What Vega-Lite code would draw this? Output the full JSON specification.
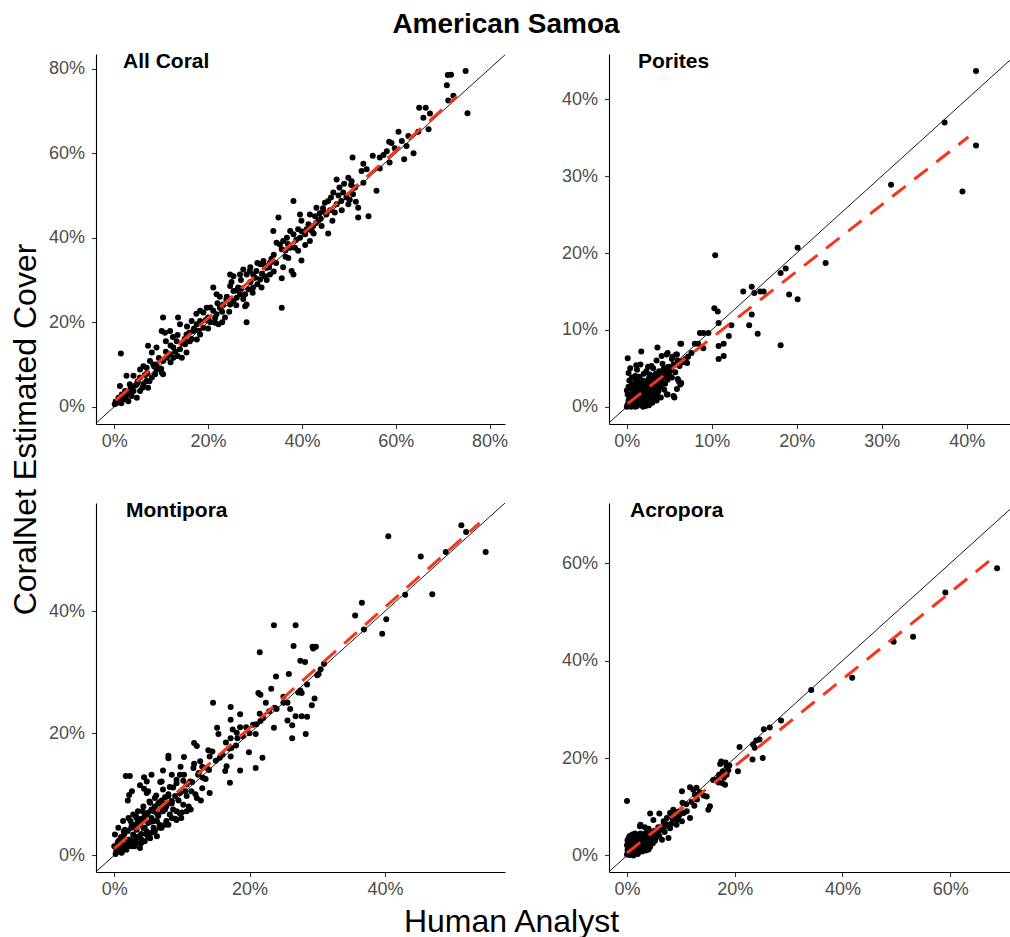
{
"$schema": "https://vega.github.io/schema/vega-lite/v6.json",
"padding": {"left": 9, "top": 11, "right": 0, "bottom": 0},
"title": {"text": "American Samoa", "fontSize": 28, "fontWeight": "bold", "font": "Liberation Sans", "color": "#000", "anchor": "middle", "baseline": "alphabetic", "offset": -10, "dx": 410},
"datasets": {
"allcoral": [[71.1,78.5],[71.8,78.6],[74.9,79.5],[70.9,76.1],[71.2,72.5],[72.3,73.6],[75.3,69.5],[65.0,70.8],[66.4,70.8],[65.9,68.4],[67.3,69.4],[67.0,65.7],[64.8,65.1],[60.6,65.1],[62.7,64.1],[61.3,62.9],[58.6,62.7],[59.1,62.4],[59.8,61.2],[62.3,61.7],[63.8,60.0],[61.8,58.6],[58.1,60.5],[58.7,57.8],[56.6,56.4],[50.8,59.0],[53.1,57.5],[55.1,59.4],[56.6,59.0],[57.4,59.6],[52.7,55.8],[53.8,56.2],[55.9,51.1],[52.0,44.8],[54.2,45.1],[52.0,47.1],[53.1,53.0],[47.4,53.8],[49.9,54.2],[50.6,53.4],[48.0,51.9],[46.7,50.7],[48.8,50.7],[50.9,50.3],[51.3,51.9],[49.5,49.5],[48.4,48.7],[49.9,47.9],[47.4,47.9],[45.6,48.7],[44.9,48.3],[44.6,46.3],[43.1,47.1],[42.8,45.1],[41.7,45.5],[43.5,44.0],[44.2,42.8],[45.6,41.0],[42.4,42.8],[41.4,43.2],[39.9,44.0],[39.6,45.5],[38.2,48.7],[41.7,39.2],[40.7,38.3],[39.9,34.6],[37.8,32.1],[38.2,31.3],[35.7,30.4],[35.7,23.4],[38.2,40.8],[37.5,41.6],[36.8,40.0],[36.0,39.2],[35.3,38.4],[35.0,44.8],[33.9,41.6],[34.6,38.8],[35.7,37.3],[37.5,37.6],[39.2,36.9],[37.1,35.2],[38.5,37.6],[39.6,40.0],[40.7,40.8],[39.2,42.0],[42.1,41.6],[46.0,46.5],[47.0,46.0],[45.2,45.5],[44.0,44.5],[43.0,43.5],[42.5,41.0],[46.5,44.0],[48.5,46.5],[50.2,49.0],[51.5,48.5],[50.5,52.5],[49.0,52.8],[47.8,50.0],[46.2,49.5],[44.5,47.0],[43.8,45.8],[41.0,42.0],[40.0,41.5],[38.8,39.5],[37.0,38.5],[36.5,37.0],[34.0,36.0],[33.5,35.0],[34.5,34.0],[36.0,33.0],[33.0,33.0],[32.0,33.5],[33.2,34.1],[32.5,32.9],[31.8,34.5],[31.1,33.7],[30.3,32.1],[29.6,31.3],[28.9,32.1],[28.2,31.3],[27.5,32.5],[26.8,31.3],[24.7,31.3],[25.4,30.9],[31.1,30.1],[32.1,30.9],[33.2,31.3],[31.4,28.2],[29.6,28.2],[28.6,27.8],[27.9,26.6],[28.2,24.2],[27.9,23.8],[28.2,20.0],[26.8,26.6],[26.1,25.8],[25.4,25.0],[24.7,24.2],[23.9,25.4],[23.2,24.2],[24.7,28.6],[25.4,27.4],[26.4,28.2],[22.5,23.4],[23.6,21.1],[21.8,21.9],[21.1,22.7],[21.1,28.2],[21.8,26.6],[21.5,19.9],[22.2,19.5],[19.7,23.4],[19.0,22.3],[18.3,22.7],[20.0,21.1],[18.3,20.3],[17.6,19.5],[16.5,20.3],[16.8,17.9],[18.3,17.1],[19.0,18.7],[17.6,15.9],[16.1,15.5],[15.4,17.1],[15.1,14.8],[14.0,13.6],[13.3,15.5],[12.6,14.0],[14.0,19.5],[13.6,21.1],[10.4,21.1],[10.1,17.9],[10.8,17.5],[11.9,17.9],[11.9,12.4],[12.6,11.6],[11.2,11.6],[10.4,10.8],[14.4,11.6],[15.4,12.8],[9.0,14.0],[8.0,12.8],[7.2,14.4],[7.6,10.8],[8.3,10.0],[9.0,8.8],[10.1,8.1],[10.4,7.7],[6.9,9.2],[5.5,8.8],[6.2,9.6],[4.1,7.3],[2.6,7.3],[5.5,6.9],[4.8,5.3],[3.3,5.3],[4.1,3.7],[2.6,2.9],[1.2,4.9],[1.4,12.6],[0.5,0.9],[0.1,0.6],[0.9,2.1],[1.9,1.7],[3.0,1.3],[3.7,2.5],[4.8,2.1],[5.5,3.7],[6.2,5.3],[6.9,6.1],[8.0,6.9],[8.7,7.7],[7.2,4.5],[2.3,3.7],[1.6,2.9],[29.0,29.5],[30.0,30.5],[27.0,28.0],[26.0,27.5],[24.0,26.0],[23.0,22.5],[22.0,24.5],[20.5,20.0],[19.5,20.5],[17.0,18.5],[16.0,17.5],[15.0,16.0],[14.5,15.0],[13.0,13.0],[12.0,14.5],[11.0,13.0],[9.5,11.5],[9.0,10.0],[8.5,9.5],[7.0,8.0],[6.5,7.5],[5.0,6.0],[4.5,5.0],[3.5,4.5],[3.0,3.5],[2.0,2.5],[1.0,1.5],[0.3,1.2],[1.5,0.8],[2.5,1.8],[3.5,3.0],[6.0,4.5],[7.5,6.0],[10.0,9.0],[12.0,10.5],[13.5,12.0],[16.5,16.0],[18.0,18.0],[20.0,18.5],[21.5,21.0],[23.0,20.0],[24.5,22.5],[26.0,24.0],[27.5,25.5],[29.5,27.0],[30.5,29.0],[31.5,31.5],[32.5,30.0],[34.0,32.0],[36.5,35.5],[17.5,22.0],[15.5,19.0],[13.5,17.0],[12.5,16.5],[11.0,15.5],[20.5,23.5],[22.5,26.0],[25.0,29.5],[27.0,30.0],[29.0,33.0],[30.5,34.0]],
"porites": [[41.1,43.7],[37.4,37.0],[41.1,34.0],[31.1,28.9],[39.5,28.0],[20.1,20.7],[23.4,18.7],[18.1,17.4],[18.7,18.0],[19.1,14.6],[20.1,14.0],[18.1,8.0],[10.4,19.7],[13.7,15.0],[14.7,15.6],[15.0,14.8],[15.7,15.0],[16.1,15.0],[14.7,12.0],[14.4,10.6],[15.4,9.5],[10.3,12.8],[10.7,12.4],[10.8,10.9],[12.3,10.6],[12.0,9.2],[11.4,8.2],[10.8,7.9],[11.4,6.6],[10.8,6.2],[8.6,9.6],[9.0,9.6],[9.6,9.6],[8.0,8.2],[8.4,8.2],[9.0,7.6],[7.6,7.0],[6.3,8.2],[6.5,5.9],[7.1,5.7],[5.9,6.8],[5.3,6.2],[0.1,6.3],[1.7,7.2],[1.1,5.4],[3.6,7.7],[4.7,6.8],[4.1,6.6],[2.9,5.3],[6.1,3.3],[6.3,2.9],[5.5,1.4],[4.7,1.6],[5.9,2.3],[4.8,7.0],[5.8,6.8],[6.4,8.2],[4.8,1.6],[5.6,1.2],[6.0,3.6],[6.4,3.1],[0.0,0.0],[0.1,0.3],[0.2,0.8],[0.3,1.2],[0.1,1.6],[0.0,2.1],[0.2,2.6],[0.4,0.1],[0.5,0.5],[0.6,1.0],[0.5,1.5],[0.7,2.0],[0.4,2.4],[0.6,2.9],[0.8,0.2],[0.9,0.7],[1.0,1.2],[0.9,1.7],[1.1,2.2],[0.8,2.7],[1.0,3.2],[1.2,0.1],[1.3,0.6],[1.4,1.1],[1.2,1.6],[1.5,2.1],[1.3,2.6],[1.4,3.1],[1.6,0.4],[1.7,0.9],[1.8,1.4],[1.6,1.9],[1.9,2.4],[1.7,2.9],[1.8,3.4],[2.0,0.3],[2.1,0.8],[2.2,1.3],[2.0,1.8],[2.3,2.3],[2.1,2.8],[2.2,3.3],[2.4,0.6],[2.5,1.1],[2.6,1.6],[2.4,2.1],[2.7,2.6],[2.5,3.1],[2.6,3.7],[2.8,0.9],[2.9,1.4],[3.0,1.9],[2.8,2.4],[3.1,2.9],[2.9,3.4],[3.0,4.0],[3.2,1.2],[3.3,1.7],[3.4,2.2],[3.2,2.7],[3.5,3.2],[3.3,3.7],[3.4,4.3],[3.6,1.5],[3.7,2.0],[3.8,2.5],[3.6,3.0],[3.9,3.5],[3.7,4.0],[3.8,4.6],[4.0,2.8],[4.1,3.3],[4.2,3.8],[4.0,4.3],[4.3,4.8],[4.4,2.2],[4.5,3.0],[4.6,4.0],[4.4,5.0],[4.7,4.5],[4.8,3.5],[4.9,5.2],[5.0,4.2],[5.2,4.8],[5.3,3.8],[5.5,5.5],[5.7,4.5],[5.4,6.5],[6.0,6.0],[6.2,5.3],[6.6,5.8],[6.9,6.2],[7.2,6.5],[0.3,3.4],[0.6,3.8],[1.0,4.0],[1.5,3.9],[2.0,4.3],[2.3,4.6],[0.2,4.4],[1.2,4.8],[1.9,0.0],[2.6,0.2],[3.0,0.5],[3.5,0.8],[4.0,1.2],[0.5,0.0],[1.0,0.0],[2.2,0.1],[1.1,3.6],[2.7,4.2],[3.1,5.0],[4.2,5.6],[3.5,6.0],[2.5,5.2],[1.6,5.5],[0.4,5.0]],
"montipora": [[51.3,54.1],[52.0,53.0],[40.5,52.3],[54.9,49.7],[49.0,49.7],[45.3,49.0],[43.0,42.7],[47.0,42.8],[35.6,39.3],[36.6,41.4],[40.2,38.7],[36.9,37.0],[39.6,36.3],[23.6,37.7],[26.8,37.7],[21.5,33.3],[26.5,34.3],[29.3,34.2],[29.8,34.2],[29.4,33.9],[27.5,31.9],[28.2,31.7],[23.9,29.3],[25.8,29.7],[30.2,29.7],[31.0,31.4],[21.3,26.6],[21.6,26.3],[23.2,27.3],[22.4,25.0],[23.7,24.2],[25.0,25.0],[25.6,25.0],[21.5,23.2],[22.9,23.6],[25.6,22.1],[26.8,22.8],[27.7,22.8],[28.5,22.7],[26.3,21.3],[23.6,20.9],[26.3,19.2],[28.3,19.9],[27.2,26.7],[27.7,26.6],[29.6,25.7],[29.2,24.6],[21.6,22.0],[20.9,19.9],[20.5,21.4],[19.9,16.9],[20.9,14.3],[21.9,16.0],[14.6,25.0],[15.2,20.9],[15.4,19.9],[17.2,24.3],[17.2,22.2],[18.6,23.1],[18.6,21.0],[17.5,20.6],[18.1,20.1],[17.2,19.2],[18.2,19.2],[17.3,17.6],[17.2,16.2],[16.6,14.6],[17.1,11.9],[18.6,13.9],[16.4,13.8],[15.6,16.0],[14.1,16.2],[13.9,17.2],[13.7,14.3],[14.1,10.2],[11.8,18.4],[12.2,17.9],[10.3,16.1],[8.0,16.3],[8.0,15.9],[10.3,13.2],[12.7,15.4],[11.7,14.3],[11.2,12.1],[12.4,13.2],[10.7,11.6],[13.1,12.7],[12.2,9.4],[12.8,9.0],[11.3,7.5],[2.3,13.0],[1.7,13.0],[2.2,9.9],[2.0,9.0],[4.4,12.8],[4.8,12.1],[5.5,13.2],[4.4,10.9],[4.8,10.2],[7.2,13.9],[7.0,12.1],[8.5,13.2],[9.2,12.4],[9.7,13.2],[8.7,11.1],[9.7,10.2],[8.0,9.7],[6.0,9.4],[7.7,8.0],[8.7,7.5],[8.2,6.7],[9.7,6.9],[9.2,5.8],[7.7,5.6],[6.7,5.0],[5.8,4.5],[6.3,3.1],[5.5,3.7],[4.8,6.7],[4.3,5.8],[3.8,5.0],[3.3,4.2],[2.8,3.4],[2.3,2.6],[1.6,1.7],[0.8,1.2],[0.3,0.7],[0.1,3.4],[0.6,4.5],[1.3,5.6],[2.1,6.1],[2.8,6.7],[3.5,7.2],[4.3,8.0],[5.3,8.6],[5.8,7.2],[6.5,6.7],[7.2,7.2],[6.7,8.7],[5.5,6.1],[4.8,3.4],[4.0,2.6],[3.3,2.0],[2.6,1.5],[1.8,0.9],[1.1,0.4],[3.8,1.2],[4.5,2.3],[5.3,2.8],[5.9,3.9],[6.7,4.5],[7.5,5.0],[8.5,6.1],[9.2,7.2],[10.2,8.3],[10.7,9.7],[11.4,10.5],[10.7,7.2],[9.9,6.1],[6.3,5.6],[4.8,3.9],[1.3,2.8],[0.6,2.3],[0.3,1.5],[1.4,3.9],[2.6,5.0],[3.3,6.1],[4.3,4.5],[5.0,5.3],[5.8,5.6],[6.3,6.9],[7.0,7.7],[7.7,8.5],[8.5,8.9],[9.0,9.7],[1.0,0.5],[1.5,1.0],[2.0,1.5],[2.5,2.0],[3.0,2.5],[3.5,3.0],[4.0,3.5],[0.5,2.0],[1.0,3.0],[1.5,3.5],[2.0,4.0],[2.5,4.5],[3.0,5.0],[3.5,5.5],[4.0,6.0],[4.5,6.5],[5.0,7.0],[5.5,7.5],[6.0,8.0],[6.5,8.5],[7.0,9.0],[7.5,9.5],[8.0,10.0],[3.0,1.5],[4.0,2.0],[5.0,3.0],[6.0,4.0],[7.0,4.5],[8.0,5.0],[9.0,6.0],[10.0,7.0],[11.0,8.0],[12.0,10.0],[13.0,11.0],[11.5,12.0],[10.5,10.5],[9.5,9.0],[8.5,8.5],[7.5,7.5],[6.5,6.5],[5.5,5.5],[4.5,4.5],[2.0,2.5],[1.2,1.8],[0.6,0.9],[0.2,0.2],[0.0,1.5],[0.8,2.5],[1.6,4.2],[2.4,5.6],[3.2,6.4],[4.2,7.2],[5.2,8.8],[6.2,9.8],[7.2,10.8],[8.2,11.2],[9.2,11.8],[10.2,12.2],[6.8,12.0],[5.0,10.5],[3.8,11.5],[2.6,10.5],[9.8,14.5],[11.8,15.0],[12.5,13.5],[13.5,12.5],[14.0,14.0],[15.0,15.5],[16.0,16.5],[17.0,17.5],[16.5,18.5],[14.5,17.0],[13.0,14.5],[18.0,18.0],[19.0,19.5],[19.5,21.0],[20.0,20.0],[21.0,21.5],[22.0,22.5],[24.0,24.0],[25.0,26.0],[26.0,24.0],[27.5,27.0],[28.5,28.0],[30.0,29.5],[30.5,30.5]],
"acropora": [[68.7,59.0],[59.1,54.0],[53.1,44.9],[49.5,43.9],[41.8,36.5],[34.2,34.0],[28.6,27.7],[26.5,26.3],[25.4,25.9],[24.6,23.8],[24.0,23.6],[23.4,22.8],[23.7,22.1],[20.9,22.3],[23.3,19.7],[25.2,20.0],[20.6,17.3],[17.5,19.3],[18.3,19.1],[18.5,18.3],[17.8,17.3],[18.5,16.6],[16.6,15.6],[17.7,14.9],[18.2,14.5],[17.1,16.6],[15.4,10.1],[15.1,9.4],[14.8,12.1],[14.2,12.3],[12.6,12.5],[11.7,14.0],[12.3,13.5],[12.9,13.9],[10.2,13.2],[10.3,10.8],[11.1,9.1],[10.5,8.7],[11.7,7.7],[9.8,8.4],[9.2,7.3],[8.6,9.4],[8.0,8.7],[7.4,7.7],[6.8,7.0],[6.0,8.6],[4.3,8.6],[2.5,6.3],[0.0,11.2],[4.9,7.3],[6.5,3.2],[7.7,3.6],[4.0,1.2],[8.0,5.6],[7.4,6.3],[6.8,5.6],[6.2,5.3],[5.5,4.9],[4.9,4.3],[9.2,6.3],[10.2,7.0],[9.5,7.7],[8.9,8.0],[13.0,11.5],[12.0,11.0],[11.0,10.5],[13.5,13.0],[16.0,15.5],[17.0,15.0],[18.0,16.0],[19.0,18.5],[18.8,17.5],[17.3,18.8],[12.5,10.2],[9.5,9.0],[8.5,7.5],[7.0,6.8],[6.5,6.0],[5.8,5.8],[5.2,4.5],[6.0,4.0],[7.0,4.8],[8.2,6.5],[0.0,0.2],[0.2,0.6],[0.1,1.1],[0.3,1.6],[0.0,2.1],[0.2,2.6],[0.1,3.1],[0.3,3.6],[0.5,0.1],[0.6,0.5],[0.4,1.0],[0.7,1.5],[0.5,2.0],[0.6,2.5],[0.4,3.0],[0.7,3.5],[0.9,0.3],[1.0,0.8],[0.8,1.3],[1.1,1.8],[0.9,2.3],[1.0,2.8],[0.8,3.3],[1.1,3.8],[1.3,0.5],[1.4,1.0],[1.2,1.5],[1.5,2.0],[1.3,2.5],[1.4,3.0],[1.2,3.5],[1.7,0.7],[1.8,1.2],[1.6,1.7],[1.9,2.2],[1.7,2.7],[1.8,3.2],[2.1,1.0],[2.2,1.5],[2.0,2.0],[2.3,2.5],[2.1,3.0],[2.2,3.5],[2.5,1.3],[2.6,1.8],[2.4,2.3],[2.7,2.8],[2.5,3.3],[2.9,1.6],[3.0,2.1],[2.8,2.6],[3.1,3.1],[2.9,3.6],[3.3,2.0],[3.4,2.5],[3.2,3.0],[3.5,3.5],[3.7,2.3],[3.8,2.8],[3.6,3.3],[3.9,3.8],[4.1,3.0],[4.2,3.6],[4.4,4.0],[4.6,3.4],[4.5,4.6],[3.0,4.2],[2.0,4.0],[1.0,4.3],[0.5,4.0],[1.5,4.5],[2.5,4.5],[3.5,4.6],[4.0,5.5],[3.3,5.8],[2.4,6.0],[1.2,0.0],[2.0,0.3],[2.8,0.8],[3.5,1.0],[4.3,1.8],[4.8,2.5],[5.2,3.0],[5.5,3.8],[5.0,5.0],[5.8,4.6]],
"lines": [
{"panel":"All Coral","kind":"identity","human":-3.9,"coralnet":-3.9},{"panel":"All Coral","kind":"identity","human":83.3,"coralnet":83.3},
{"panel":"All Coral","kind":"fit","human":0.3,"coralnet":1.5},{"panel":"All Coral","kind":"fit","human":73.0,"coralnet":73.4},
{"panel":"Porites","kind":"identity","human":-2.1,"coralnet":-2.1},{"panel":"Porites","kind":"identity","human":45.1,"coralnet":45.1},
{"panel":"Porites","kind":"fit","human":0.1,"coralnet":0.4},{"panel":"Porites","kind":"fit","human":40.2,"coralnet":35.1},
{"panel":"Montipora","kind":"identity","human":-2.7,"coralnet":-2.7},{"panel":"Montipora","kind":"identity","human":57.75,"coralnet":57.75},
{"panel":"Montipora","kind":"fit","human":0.0,"coralnet":1.1},{"panel":"Montipora","kind":"fit","human":54.0,"coralnet":54.5},
{"panel":"Acropora","kind":"identity","human":-3.34,"coralnet":-3.34},{"panel":"Acropora","kind":"identity","human":71.1,"coralnet":71.1},
{"panel":"Acropora","kind":"fit","human":0.0,"coralnet":0.5},{"panel":"Acropora","kind":"fit","human":68.6,"coralnet":61.7}
]
},
"columns": 2,
"spacing": {"row": 79, "column": 104},
"bounds": "flush",
"concat": [
{
"width": 409, "height": 370,
"title": {"text": "All Coral", "anchor": "start", "offset": -18, "dx": 27},
"layer": [
{"data": {"name": "allcoral"}, "transform": [{"calculate": "datum[0]", "as": "human"}, {"calculate": "datum[1]", "as": "coralnet"}],
"mark": {"type": "circle", "size": 36, "color": "#000", "opacity": 1},
"encoding": {
"x": {"field": "human", "type": "quantitative", "scale": {"domain": [-3.9, 83.3], "nice": false, "zero": false}, "axis": {"values": [0,20,40,60,80], "title": null}},
"y": {"field": "coralnet", "type": "quantitative", "scale": {"domain": [-4.1, 83.5], "nice": false, "zero": false}, "axis": {"values": [0,20,40,60,80], "title": "CoralNet Estimated Cover", "titleX": -71, "titleY": 375, "titleAngle": 270, "titleAlign": "center", "titleBaseline": "middle"}}
}},
{"data": {"name": "lines"}, "transform": [{"filter": "datum.panel === 'All Coral' && datum.kind === 'identity'"}], "mark": {"type": "line", "color": "#000", "strokeWidth": 0.9, "clip": true}, "encoding": {"x": {"field": "human", "type": "quantitative"}, "y": {"field": "coralnet", "type": "quantitative"}}},
{"data": {"name": "lines"}, "transform": [{"filter": "datum.panel === 'All Coral' && datum.kind === 'fit'"}], "mark": {"type": "line", "color": "#F5361B", "strokeWidth": 3, "strokeDash": [17, 11]}, "encoding": {"x": {"field": "human", "type": "quantitative"}, "y": {"field": "coralnet", "type": "quantitative"}}}
]
},
{
"width": 401, "height": 370,
"title": {"text": "Porites", "anchor": "start", "offset": -18, "dx": 29},
"layer": [
{"data": {"name": "porites"}, "transform": [{"calculate": "datum[0]", "as": "human"}, {"calculate": "datum[1]", "as": "coralnet"}],
"mark": {"type": "circle", "size": 36, "color": "#000", "opacity": 1},
"encoding": {
"x": {"field": "human", "type": "quantitative", "scale": {"domain": [-2.1, 45.1], "nice": false, "zero": false}, "axis": {"values": [0,10,20,30,40], "title": null}},
"y": {"field": "coralnet", "type": "quantitative", "scale": {"domain": [-2.25, 45.9], "nice": false, "zero": false}, "axis": {"values": [0,10,20,30,40], "title": null}}
}},
{"data": {"name": "lines"}, "transform": [{"filter": "datum.panel === 'Porites' && datum.kind === 'identity'"}], "mark": {"type": "line", "color": "#000", "strokeWidth": 0.9, "clip": true}, "encoding": {"x": {"field": "human", "type": "quantitative"}, "y": {"field": "coralnet", "type": "quantitative"}}},
{"data": {"name": "lines"}, "transform": [{"filter": "datum.panel === 'Porites' && datum.kind === 'fit'"}], "mark": {"type": "line", "color": "#F5361B", "strokeWidth": 3, "strokeDash": [17, 11]}, "encoding": {"x": {"field": "human", "type": "quantitative"}, "y": {"field": "coralnet", "type": "quantitative"}}}
]
},
{
"width": 409, "height": 369,
"title": {"text": "Montipora", "anchor": "start", "offset": -18, "dx": 30},
"layer": [
{"data": {"name": "montipora"}, "transform": [{"calculate": "datum[0]", "as": "human"}, {"calculate": "datum[1]", "as": "coralnet"}],
"mark": {"type": "circle", "size": 36, "color": "#000", "opacity": 1},
"encoding": {
"x": {"field": "human", "type": "quantitative", "scale": {"domain": [-2.7, 57.75], "nice": false, "zero": false}, "axis": {"values": [0,20,40], "title": "Human Analyst", "titleX": 415, "titleY": 59, "titleAlign": "center", "titleBaseline": "alphabetic"}},
"y": {"field": "coralnet", "type": "quantitative", "scale": {"domain": [-2.74, 57.75], "nice": false, "zero": false}, "axis": {"values": [0,20,40], "title": null}}
}},
{"data": {"name": "lines"}, "transform": [{"filter": "datum.panel === 'Montipora' && datum.kind === 'identity'"}], "mark": {"type": "line", "color": "#000", "strokeWidth": 0.9, "clip": true}, "encoding": {"x": {"field": "human", "type": "quantitative"}, "y": {"field": "coralnet", "type": "quantitative"}}},
{"data": {"name": "lines"}, "transform": [{"filter": "datum.panel === 'Montipora' && datum.kind === 'fit'"}], "mark": {"type": "line", "color": "#F5361B", "strokeWidth": 3, "strokeDash": [17, 11]}, "encoding": {"x": {"field": "human", "type": "quantitative"}, "y": {"field": "coralnet", "type": "quantitative"}}}
]
},
{
"width": 401, "height": 369,
"title": {"text": "Acropora", "anchor": "start", "offset": -18, "dx": 21},
"layer": [
{"data": {"name": "acropora"}, "transform": [{"calculate": "datum[0]", "as": "human"}, {"calculate": "datum[1]", "as": "coralnet"}],
"mark": {"type": "circle", "size": 36, "color": "#000", "opacity": 1},
"encoding": {
"x": {"field": "human", "type": "quantitative", "scale": {"domain": [-3.34, 71.1], "nice": false, "zero": false}, "axis": {"values": [0,20,40,60], "title": null}},
"y": {"field": "coralnet", "type": "quantitative", "scale": {"domain": [-3.4, 72.4], "nice": false, "zero": false}, "axis": {"values": [0,20,40,60], "title": null}}
}},
{"data": {"name": "lines"}, "transform": [{"filter": "datum.panel === 'Acropora' && datum.kind === 'identity'"}], "mark": {"type": "line", "color": "#000", "strokeWidth": 0.9, "clip": true}, "encoding": {"x": {"field": "human", "type": "quantitative"}, "y": {"field": "coralnet", "type": "quantitative"}}},
{"data": {"name": "lines"}, "transform": [{"filter": "datum.panel === 'Acropora' && datum.kind === 'fit'"}], "mark": {"type": "line", "color": "#F5361B", "strokeWidth": 3, "strokeDash": [17, 11]}, "encoding": {"x": {"field": "human", "type": "quantitative"}, "y": {"field": "coralnet", "type": "quantitative"}}}
]
}
],
"config": {
"font": "Liberation Sans",
"view": {"stroke": null},
"title": {"fontSize": 21, "fontWeight": "bold", "color": "#000", "font": "Liberation Sans", "baseline": "alphabetic", "frame": "group"},
"axis": {"grid": false, "domainColor": "#000", "domainWidth": 1.1, "tickColor": "#333", "tickWidth": 1.1, "tickSize": 4.5, "labelColor": "#4D4D4D", "labelFontSize": 18, "labelFont": "Liberation Sans", "labelPadding": 4, "titleFont": "Liberation Sans", "titleFontSize": 32, "titleFontWeight": "normal", "titleColor": "#000"},
"axisX": {"labelExpr": "datum.value + '%'"},
"axisY": {"labelExpr": "datum.value + '%'", "labelPadding": 7}
}
}
